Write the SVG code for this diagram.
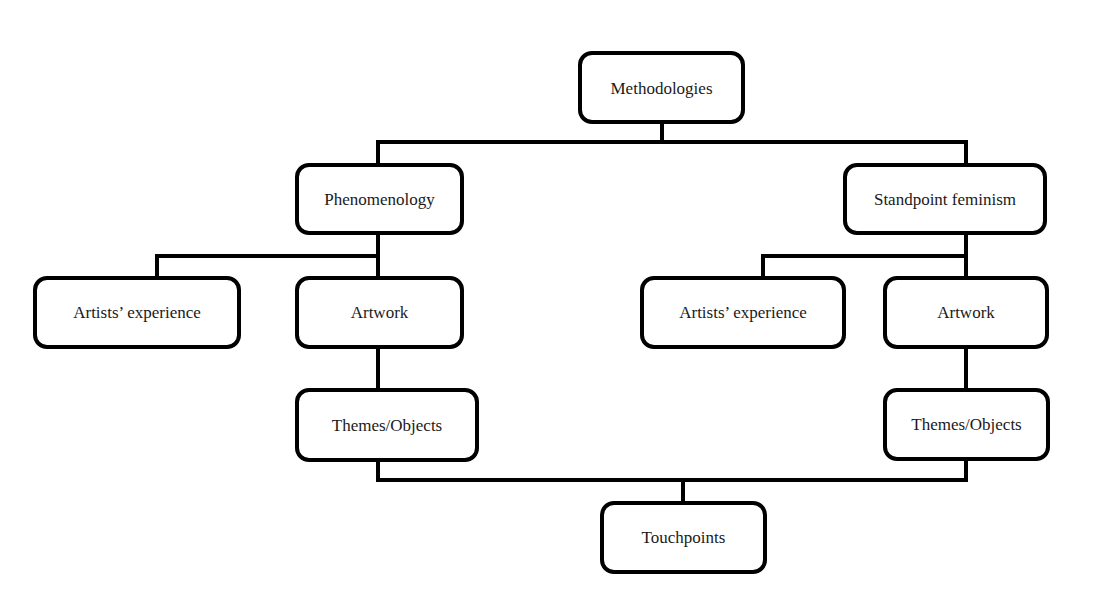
<svg xmlns="http://www.w3.org/2000/svg" width="1104" height="608" viewBox="0 0 1104 608">
<style>
.box{fill:#ffffff;stroke:#000;stroke-width:4}
.lbl{font-family:"Liberation Serif","Times New Roman",serif;font-size:17px;fill:#1a1a1a;text-anchor:middle;dominant-baseline:central}
.con{fill:none;stroke:#000;stroke-width:4;stroke-linejoin:miter}
</style>
<rect width="1104" height="608" fill="#ffffff"/>
<g id="connectors">
<path class="con" d="M662 122V142M378 165V142H966V165"/>
<path class="con" d="M378 233V278M157 278V256H378"/>
<path class="con" d="M966 233V278M763 278V256H966"/>
<path class="con" d="M378 347V390M966 347V390"/>
<path class="con" d="M378 460V480H966V459M683 480V503"/>
</g>
<g id="methodologies"><rect class="box" x="580" y="53" width="163" height="69" rx="12"/><text class="lbl" x="661.5" y="88">Methodologies</text></g>
<g id="phenomenology"><rect class="box" x="297" y="165" width="165" height="68" rx="12"/><text class="lbl" x="379.5" y="199">Phenomenology</text></g>
<g id="standpoint"><rect class="box" x="845" y="165" width="200" height="68" rx="12"/><text class="lbl" x="945" y="199">Standpoint feminism</text></g>
<g id="artists-left"><rect class="box" x="35" y="278" width="204" height="69" rx="12"/><text class="lbl" x="137" y="312.5">Artists’ experience</text></g>
<g id="artwork-left"><rect class="box" x="297" y="278" width="165" height="69" rx="12"/><text class="lbl" x="379.5" y="312.5">Artwork</text></g>
<g id="artists-right"><rect class="box" x="642" y="278" width="202" height="69" rx="12"/><text class="lbl" x="743" y="312.5">Artists’ experience</text></g>
<g id="artwork-right"><rect class="box" x="885" y="278" width="162" height="69" rx="12"/><text class="lbl" x="966" y="312.5">Artwork</text></g>
<g id="themes-left"><rect class="box" x="297" y="390" width="180" height="70" rx="12"/><text class="lbl" x="387" y="425">Themes/Objects</text></g>
<g id="themes-right"><rect class="box" x="885" y="390" width="163" height="69" rx="12"/><text class="lbl" x="966.5" y="424.5">Themes/Objects</text></g>
<g id="touchpoints"><rect class="box" x="602" y="503" width="163" height="69" rx="12"/><text class="lbl" x="683.5" y="537.5">Touchpoints</text></g>
</svg>
